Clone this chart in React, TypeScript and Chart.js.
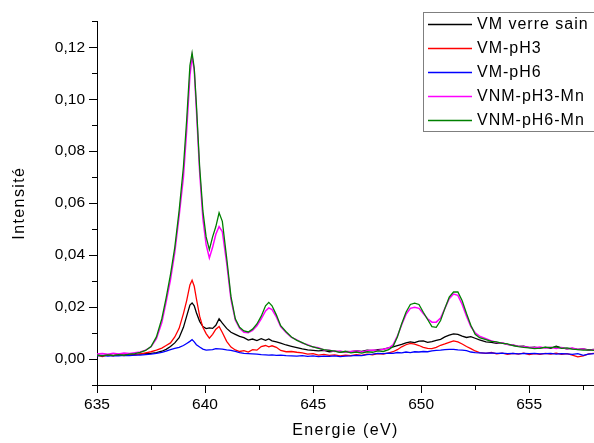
import React, { useEffect, useRef } from "react";
import { Chart, registerables } from "chart.js";

Chart.register(...registerables);

// Energy grid (eV)
const energy = [
  635, 635.25, 635.5, 635.75, 636, 636.25, 636.5, 636.75, 637,
  637.25, 637.5, 637.75, 638, 638.2, 638.4, 638.6, 638.8, 639, 639.15, 639.3, 639.4, 639.5, 639.6, 639.75, 639.9,
  640.05, 640.2, 640.35, 640.5, 640.65, 640.8, 641, 641.2, 641.4, 641.6, 641.8, 642, 642.2, 642.4, 642.6, 642.8,
  642.95, 643.1, 643.3, 643.5, 643.75, 644,
  644.25, 644.5, 644.75, 645, 645.25, 645.5, 645.75, 646, 646.25, 646.5, 646.75, 647, 647.25, 647.5, 647.75, 648, 648.25, 648.5,
  648.7, 648.9, 649.1, 649.3, 649.5, 649.7, 649.9, 650.1, 650.3, 650.5, 650.7, 650.9, 651.1, 651.3, 651.5, 651.7, 651.9, 652.1, 652.3, 652.5, 652.7,
  653, 653.25, 653.5, 653.75, 654, 654.25, 654.5, 654.75, 655, 655.25, 655.5, 655.75, 656, 656.25, 656.5, 656.75, 657, 657.25, 657.5, 657.75, 658,
];

const vmVerreSain = [
  0.0016, 0.0013, 0.0017, 0.0014, 0.0016, 0.0015, 0.0018, 0.0017, 0.0019,
  0.0021, 0.0022, 0.0025, 0.003, 0.0037, 0.0048, 0.0062, 0.0082, 0.0122, 0.0165, 0.0208, 0.0216, 0.0205, 0.0178, 0.0145, 0.0125,
  0.0117, 0.012, 0.0118, 0.013, 0.0155, 0.0138, 0.0118, 0.0103, 0.0095, 0.0087, 0.0082, 0.0073, 0.0077, 0.0071, 0.0078, 0.0072,
  0.0077, 0.007, 0.0066, 0.0061, 0.0054, 0.0049,
  0.0044, 0.0039, 0.0035, 0.0033, 0.0031, 0.0033, 0.0028, 0.003, 0.0027, 0.0029, 0.0028, 0.0031, 0.0029, 0.0034, 0.0032, 0.0036, 0.0038, 0.0043,
  0.0047, 0.0052, 0.0056, 0.0062, 0.0066, 0.0063, 0.0069, 0.007, 0.0064, 0.0067, 0.0072, 0.0076, 0.0085, 0.0092, 0.0097, 0.0095, 0.0088, 0.0083, 0.0086, 0.008, 0.0074,
  0.0066, 0.0064, 0.006, 0.0062, 0.0056, 0.0053, 0.0049, 0.005, 0.0044, 0.0046, 0.0042, 0.0045, 0.0041, 0.0049, 0.0043, 0.0039, 0.0041, 0.0037, 0.0039, 0.0035, 0.0037,
];

const vmPH3 = [
  0.0014, 0.0009, 0.0016, 0.0012, 0.0018, 0.0013, 0.0017, 0.0015, 0.002,
  0.0024, 0.0028, 0.0034, 0.0042, 0.0052, 0.0062, 0.0085, 0.0118, 0.0175, 0.0225, 0.0285, 0.0303, 0.028, 0.0232, 0.0165, 0.0122,
  0.0098, 0.008, 0.0095, 0.0115, 0.0125, 0.0102, 0.0068, 0.0046, 0.0035, 0.0029, 0.0032, 0.0027, 0.0036, 0.0034, 0.0048, 0.0052,
  0.0047, 0.0051, 0.0045, 0.0033, 0.0028, 0.0029,
  0.0026, 0.0024, 0.0019, 0.0021, 0.0015, 0.0018, 0.0014, 0.0016, 0.0012, 0.0015, 0.0013, 0.0017, 0.0014, 0.0019, 0.0016, 0.0021, 0.0019, 0.0024,
  0.0028, 0.0036, 0.0047, 0.0055, 0.006, 0.0057, 0.0052, 0.0045, 0.0041, 0.004, 0.0045, 0.0053, 0.0058, 0.0064, 0.007, 0.0066, 0.0058, 0.0048, 0.004, 0.0031, 0.0025,
  0.0022, 0.0025, 0.002, 0.0023, 0.0018, 0.0022, 0.0019, 0.0023, 0.0017, 0.0021, 0.0018, 0.0022, 0.0019, 0.0023, 0.0018, 0.0021, 0.0015, 0.0008, 0.0012, 0.002, 0.0022,
];

const vmPH6 = [
  0.0012, 0.0014, 0.0011, 0.0013, 0.0012, 0.0014, 0.0013, 0.0015, 0.0015,
  0.0017, 0.0019, 0.0022, 0.0026, 0.003, 0.0036, 0.0041, 0.0045, 0.0052, 0.006, 0.0068, 0.0075, 0.0066, 0.0055, 0.0046, 0.0038,
  0.0034, 0.0035, 0.0036, 0.004, 0.0039, 0.0038, 0.0035, 0.0033, 0.0029, 0.0025, 0.0022, 0.0021, 0.002, 0.0019, 0.0017, 0.0016,
  0.0015, 0.0016, 0.0014, 0.0015, 0.0013, 0.0012,
  0.0011, 0.0013, 0.001, 0.0012, 0.0009, 0.0011, 0.001, 0.0012, 0.0009, 0.0011, 0.0012, 0.0014, 0.0013, 0.0017, 0.0019, 0.0022, 0.0021, 0.0023,
  0.0022, 0.0025, 0.0024, 0.0027, 0.0025, 0.0028, 0.0027, 0.0029, 0.0028, 0.0031, 0.0033, 0.0034, 0.0036, 0.0037, 0.0037, 0.0035, 0.0034, 0.0032, 0.0027, 0.0025, 0.0024,
  0.0023, 0.0024, 0.0022, 0.0023, 0.0021, 0.0022, 0.002, 0.0022, 0.0021, 0.0022, 0.002, 0.0021, 0.0022, 0.0019, 0.0021, 0.002, 0.0018, 0.0021, 0.0014, 0.0019, 0.0021,
];

const vnmPH3Mn = [
  0.0019, 0.0021, 0.0018, 0.0022, 0.0019, 0.0023, 0.0021, 0.0024, 0.0027,
  0.0034, 0.0047, 0.0078, 0.014, 0.022, 0.0305, 0.041, 0.055, 0.07, 0.088, 0.109, 0.1165, 0.111, 0.096, 0.072, 0.054,
  0.044, 0.0389, 0.043, 0.048, 0.051, 0.049, 0.037, 0.023, 0.015, 0.0118, 0.0103, 0.0101, 0.011, 0.0128, 0.0155, 0.0185,
  0.0197, 0.019, 0.0162, 0.0125, 0.0102, 0.0083,
  0.0074, 0.0061, 0.0055, 0.0046, 0.0043, 0.0035, 0.0034, 0.0029, 0.0031, 0.0026, 0.0029, 0.0031, 0.0027, 0.0032, 0.0035, 0.0033, 0.0038, 0.0042,
  0.0055, 0.0088, 0.0132, 0.0172, 0.0195, 0.0199, 0.0195, 0.0175, 0.0155, 0.0142, 0.0142, 0.0158, 0.0195, 0.0232, 0.025, 0.0245, 0.021, 0.0165, 0.0125, 0.0101, 0.0088,
  0.0078, 0.007, 0.0064, 0.0062, 0.0056, 0.0054, 0.0049, 0.0047, 0.0045, 0.0043, 0.0046, 0.0042, 0.0045, 0.0041, 0.0044, 0.004, 0.0042, 0.0037, 0.0039, 0.0034, 0.0036,
];

const vnmPH6Mn = [
  0.0015, 0.0012, 0.0016, 0.0013, 0.0017, 0.0014, 0.0019, 0.0021, 0.0026,
  0.0033, 0.0048, 0.0085, 0.0155, 0.0235, 0.0325, 0.043, 0.057, 0.074, 0.092, 0.113, 0.1178, 0.112, 0.098, 0.074, 0.057,
  0.047, 0.0421, 0.047, 0.051, 0.0563, 0.053, 0.039, 0.024, 0.0155, 0.0122, 0.0108, 0.0104, 0.0115, 0.0135, 0.0165, 0.0205,
  0.0218, 0.0205, 0.017, 0.0128, 0.0105, 0.0085,
  0.0072, 0.0063, 0.0053, 0.0047, 0.0041, 0.0036, 0.0033, 0.003, 0.0026, 0.0029, 0.0024, 0.0027, 0.0023, 0.0028, 0.0026, 0.0031, 0.0029, 0.0036,
  0.0048, 0.0085, 0.0136, 0.018, 0.021, 0.0215, 0.021, 0.018, 0.0152, 0.0125, 0.0122, 0.0148, 0.0195, 0.0238, 0.0258, 0.0258, 0.0224, 0.0175, 0.013, 0.0095, 0.0082,
  0.0075, 0.0068, 0.0066, 0.006, 0.0058, 0.0052, 0.0048, 0.0045, 0.0043, 0.004, 0.0042, 0.0046, 0.0044, 0.0047, 0.0041, 0.0043, 0.0038, 0.0036, 0.0034, 0.0035, 0.0033,
];

const seriesLabels = ["VM verre sain", "VM-pH3", "VM-pH6", "VNM-pH3-Mn", "VNM-pH6-Mn"];
const seriesValues = [vmVerreSain, vmPH3, vmPH6, vnmPH3Mn, vnmPH6Mn];
const seriesColors = ["#000000", "#ff0000", "#0000ff", "#ff00ff", "#008000"];
const seriesWidths = [1.3, 1.3, 1.3, 1.5, 1.3];

const xTitle = "Energie (eV)";
const yTitle = "Intensité";
const FONT = "'Liberation Sans', Arial, sans-serif";

const spacingPlugin = {
  id: "titleSpacing",
  beforeDraw(chart: any) {
    (chart.ctx as any).letterSpacing = "1.4px";
  },
  afterDatasetsDraw(chart: any) {
    (chart.ctx as any).letterSpacing = "0px";
  },
};

const tickMarksPlugin = {
  id: "tickMarks",
  afterDraw(chart: any) {
    const ctx = chart.ctx;
    const xs = chart.scales.x;
    const ys = chart.scales.y;
    const area = chart.chartArea;
    ctx.save();
    ctx.strokeStyle = "#000";
    ctx.lineWidth = 1;
    ctx.beginPath();
    xs.ticks.forEach((t: any) => {
      const px = Math.round(xs.getPixelForValue(t.value)) + 0.5;
      const major = Math.abs(t.value / 5 - Math.round(t.value / 5)) < 1e-6;
      ctx.moveTo(px, area.bottom);
      ctx.lineTo(px, area.bottom + (major ? 8 : 5));
    });
    ys.ticks.forEach((t: any) => {
      const py = Math.round(ys.getPixelForValue(t.value)) + 0.5;
      const major = Math.round(t.value * 100) % 2 === 0;
      ctx.moveTo(area.left, py);
      ctx.lineTo(area.left - (major ? 8 : 5), py);
    });
    ctx.stroke();
    ctx.restore();
  },
};

const legendBoxPlugin = {
  id: "legendBox",
  afterDraw(chart: any) {
    const ctx = chart.ctx;
    ctx.save();
    ctx.fillStyle = "#ffffff";
    ctx.fillRect(423.5, 12.5, 180, 119);
    ctx.strokeStyle = "#7f7f7f";
    ctx.lineWidth = 1;
    ctx.strokeRect(423.5, 12.5, 180, 119);
    ctx.font = `16px ${FONT}`;
    (ctx as any).letterSpacing = "1px";
    ctx.textBaseline = "middle";
    ctx.textAlign = "left";
    chart.data.datasets.forEach((ds: any, i: number) => {
      const yc = 24 + i * 24;
      ctx.strokeStyle = ds.borderColor;
      ctx.lineWidth = ds.borderWidth;
      ctx.beginPath();
      ctx.moveTo(428, yc + 0.5);
      ctx.lineTo(472, yc + 0.5);
      ctx.stroke();
      ctx.fillStyle = "#000";
      ctx.fillText(ds.label, 477, yc + 1);
    });
    (ctx as any).letterSpacing = "0px";
    ctx.restore();
  },
};

export default function App() {
  const canvasRef = useRef<HTMLCanvasElement | null>(null);

  useEffect(() => {
    document.body.style.margin = "0";
    const canvas = canvasRef.current;
    if (!canvas) return;
    const datasets = seriesLabels.map((label, i) => ({
      label,
      data: energy.map((e, j) => ({ x: e, y: seriesValues[i][j] })),
      borderColor: seriesColors[i],
      backgroundColor: seriesColors[i],
      borderWidth: seriesWidths[i],
      pointRadius: 0,
      tension: 0,
      fill: false,
      order: seriesLabels.length - 1 - i,
    }));
    const chart = new Chart(canvas, {
      type: "line",
      data: { datasets },
      options: {
        animation: false,
        responsive: false,
        devicePixelRatio: 1,
        layout: { padding: { top: 16, left: 0, right: 0, bottom: 0 } },
        plugins: { legend: { display: false }, tooltip: { enabled: false } },
        scales: {
          x: {
            type: "linear",
            min: 635,
            max: 658,
            afterFit: (s: any) => { s.height = 58; },
            grid: { display: false, drawTicks: false },
            border: { display: true, color: "#000", width: 1 },
            ticks: {
              stepSize: 2.5,
              includeBounds: false,
              autoSkip: false,
              maxRotation: 0,
              padding: 10,
              z: 1,
              color: "#000",
              font: { family: FONT, size: 15.5 },
              callback: (v: any) => {
                const n = Number(v);
                return Math.abs(n / 5 - Math.round(n / 5)) < 1e-6 ? String(Math.round(n)) : "";
              },
            },
            title: {
              display: true,
              text: xTitle,
              color: "#000",
              font: { family: FONT, size: 16 },
              padding: { top: 0, bottom: 3 },
            },
          },
          y: {
            type: "linear",
            min: -0.01,
            max: 0.13,
            afterFit: (s: any) => { s.width = 97; },
            grid: { display: false, drawTicks: false },
            border: { display: true, color: "#000", width: 1 },
            ticks: {
              stepSize: 0.01,
              autoSkip: false,
              padding: 12,
              z: 1,
              color: "#000",
              font: { family: FONT, size: 15.5 },
              callback: (v: any) => {
                const k = Math.round(Number(v) * 100);
                if (k < 0 || k > 12 || k % 2 !== 0) return "";
                return (k / 100).toFixed(2).replace(".", ",");
              },
            },
            title: {
              display: true,
              text: yTitle,
              color: "#000",
              font: { family: FONT, size: 16 },
              padding: { top: 10, bottom: 0 },
            },
          },
        },
      },
      plugins: [spacingPlugin, tickMarksPlugin, legendBoxPlugin],
    });
    return () => chart.destroy();
  }, []);

  return (
    <div style={{ width: 594, height: 443 }}>
      <canvas ref={canvasRef} width={594} height={443} />
    </div>
  );
}
